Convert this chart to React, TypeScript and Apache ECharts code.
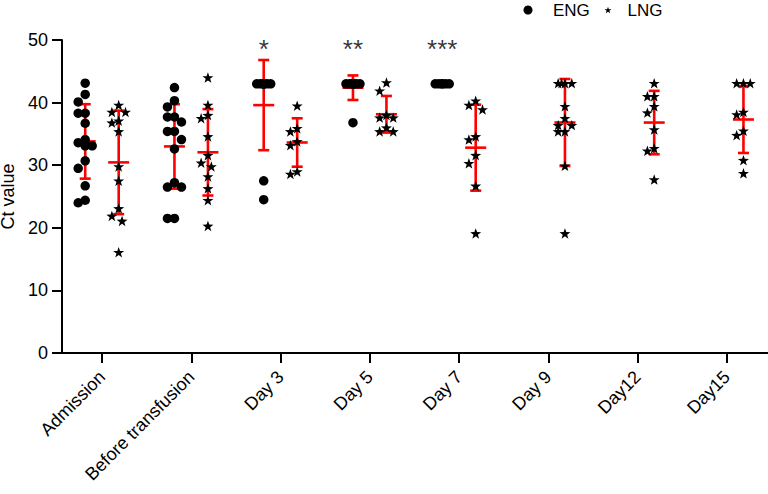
import React, { useEffect, useRef } from 'react';
import * as echarts from 'echarts';

const categories = ['Admission', 'Before transfusion', 'Day 3', 'Day 5', 'Day 7', 'Day 9', 'Day12', 'Day15'];

// ENG (early negative group) Ct values per time point
const engAdmission = [43.1, 41.3, 40.1, 38.3, 38.3, 36.7, 34.1, 33.6, 33.1, 33.1, 30.7, 29.5, 26.7, 24.4, 24.0];
const engBefore = [42.4, 40.3, 39.3, 37.7, 37.7, 36.9, 35.4, 35.4, 34.1, 32.6, 27.2, 26.5, 26.5, 21.5, 21.5];
const engDay3 = [43, 43, 43, 43, 43, 43, 43, 43, 27.5, 24.5];
const engDay5 = [43, 43, 43, 43, 43, 43, 43, 43, 43, 36.8];
const engDay7 = [43, 43, 43, 43, 43, 43];
const engDay9: number[] = [];
const engDay12: number[] = [];
const engDay15: number[] = [];

// LNG (late negative group) Ct values per time point
const lngAdmission = [39.6, 38.5, 38.5, 37.1, 36.8, 35.4, 29.8, 27.5, 23.1, 21.9, 21.1, 16.1];
const lngBefore = [44.0, 39.6, 38.0, 37.5, 34.6, 31.6, 30.4, 29.8, 28.2, 26.3, 24.4, 20.3];
const lngDay3 = [39.5, 35.9, 35.4, 33.8, 33.2, 29.0, 28.6];
const lngDay5 = [43.2, 41.9, 38.0, 37.6, 37.6, 36.0, 35.4, 35.4];
const lngDay7 = [40.3, 39.6, 38.9, 34.6, 34.1, 31.6, 30.3, 26.7, 19.1];
const lngDay9 = [43.1, 43.1, 43.1, 43.1, 39.4, 37.5, 36.4, 36.4, 35.4, 35.4, 29.9, 19.1];
const lngDay12 = [43.1, 41.0, 41.0, 39.4, 38.4, 35.7, 32.7, 32.3, 27.7];
const lngDay15 = [43.1, 43.1, 43.1, 38.5, 38.1, 35.5, 34.8, 30.8, 28.7];

const significance = ['', '', '*', '**', '***', '', '', ''];
const yTicks = [0, 10, 20, 30, 40, 50];

const engGroups = [engAdmission, engBefore, engDay3, engDay5, engDay7, engDay9, engDay12, engDay15];
const lngGroups = [lngAdmission, lngBefore, lngDay3, lngDay5, lngDay7, lngDay9, lngDay12, lngDay15];

const PX_PER_X = 89.25;
const PX_PER_Y = 6.26;
const ENG_SIDE = -0.19;
const LNG_SIDE = 0.185;

function starPath(): string {
  const pts: string[] = [];
  for (let k = 0; k < 10; k++) {
    const r = k % 2 === 0 ? 1 : 0.4;
    const a = -Math.PI / 2 + (k * Math.PI) / 5;
    pts.push(`${(r * Math.cos(a)).toFixed(4)} ${(r * Math.sin(a)).toFixed(4)}`);
  }
  return 'path://M' + pts.join(' L') + ' Z';
}
const STAR = starPath();

function swarm(values: number[], cat: number, side: number, minDist: number, step: number, maxOff: number) {
  const placed: { off: number; v: number }[] = [];
  const out: number[][] = [];
  const sorted = [...values].sort((a, b) => b - a);
  const cands: number[] = [0];
  for (let k = 1; k * step <= maxOff + 1e-6; k++) cands.push(-k * step, k * step);
  for (const v of sorted) {
    let best = cands[0];
    let bestD = -1;
    for (const c of cands) {
      let d = Infinity;
      for (const p of placed) {
        d = Math.min(d, Math.hypot(c - p.off, (v - p.v) * PX_PER_Y));
      }
      if (d >= minDist) { best = c; bestD = d; break; }
      if (d > bestD) { bestD = d; best = c; }
    }
    placed.push({ off: best, v });
    out.push([cat + side + best / PX_PER_X, v]);
  }
  return out;
}

function meanSd(values: number[]) {
  const n = values.length;
  const m = values.reduce((s, v) => s + v, 0) / n;
  const sd = n > 1 ? Math.sqrt(values.reduce((s, v) => s + (v - m) * (v - m), 0) / (n - 1)) : 0;
  return [m, sd];
}

export default function App() {
  const ref = useRef<HTMLDivElement>(null);
  useEffect(() => {
    if (!ref.current) return;
    const chart = echarts.init(ref.current, undefined, { renderer: 'svg' });
    const font = 'Liberation Sans, Arial, sans-serif';

    const engPts: number[][] = [];
    const lngPts: number[][] = [];
    const bars: number[][] = [];
    engGroups.forEach((g, i) => {
      if (!g.length) return;
      engPts.push(...swarm(g, i, ENG_SIDE, 9, 3.5, 7.5));
      const [m, sd] = meanSd(g);
      bars.push([i + ENG_SIDE, m, sd]);
    });
    lngGroups.forEach((g, i) => {
      if (!g.length) return;
      lngPts.push(...swarm(g, i, LNG_SIDE, 9.5, 3.4, 7));
      const [m, sd] = meanSd(g);
      bars.push([i + LNG_SIDE, m, sd]);
    });
    const sigData = significance
      .map((s, i) => (s ? [i - 0.19, 48.6, s] : null))
      .filter((d) => d !== null);

    const legendTextStyle = (gap: number) => ({
      fontSize: 17,
      color: '#000',
      fontFamily: font,
      rich: { a: { fontSize: 17, color: '#000', fontFamily: font, padding: [0, 0, 0, gap] } },
    });

    chart.setOption({
      animation: false,
      backgroundColor: '#fff',
      textStyle: { fontFamily: font },
      grid: { left: 62, right: 0, top: 40, bottom: 141, containLabel: false, outerBoundsMode: 'none' },
      legend: [
        {
          left: 523.5,
          top: 1.5,
          padding: 0,
          itemWidth: 9,
          itemHeight: 9,
          formatter: (n: string) => `{a|${n}}`,
          textStyle: legendTextStyle(15.5),
          data: [{ name: 'ENG', icon: 'circle' }],
        },
        {
          left: 604.5,
          top: 1.5,
          padding: 0,
          itemWidth: 7,
          itemHeight: 7,
          formatter: (n: string) => `{a|${n}}`,
          textStyle: legendTextStyle(11),
          data: [{ name: 'LNG', icon: STAR }],
        },
      ],
      xAxis: {
        type: 'value',
        min: -0.45,
        max: 7.46,
        splitLine: { show: false },
        axisLine: { show: true, onZero: false, lineStyle: { color: '#000', width: 2 } },
        axisTick: { show: true, length: 10, customValues: categories.map((_, i) => i), lineStyle: { color: '#000', width: 2 } },
        axisLabel: {
          customValues: categories.map((_, i) => i),
          formatter: (v: number) => categories[Math.round(v)] ?? '',
          rotate: 45,
          margin: 21,
          fontSize: 18,
          color: '#000',
          fontFamily: font,
        },
      },
      yAxis: {
        type: 'value',
        min: yTicks[0],
        max: yTicks[yTicks.length - 1],
        interval: 10,
        name: 'Ct value',
        nameLocation: 'middle',
        nameGap: 39,
        nameTextStyle: { fontSize: 18, color: '#000', fontFamily: font },
        splitLine: { show: false },
        axisLine: { show: true, onZero: false, lineStyle: { color: '#000', width: 2 } },
        axisTick: { show: true, length: 10, lineStyle: { color: '#000', width: 2 } },
        axisLabel: { fontSize: 18, color: '#000', margin: 14, fontFamily: font },
      },
      series: [
        {
          type: 'custom',
          name: 'Mean ± SD',
          z: 1,
          data: bars,
          renderItem: (_params: any, api: any) => {
            const x = api.value(0);
            const m = api.value(1);
            const sd = api.value(2);
            const pm = api.coord([x, m]);
            const pt = api.coord([x, m + sd]);
            const pb = api.coord([x, m - sd]);
            const st = { stroke: '#ff0000', lineWidth: 2.6 };
            const hm = 10.5;
            const hc = 5.5;
            return {
              type: 'group',
              children: [
                { type: 'line', shape: { x1: pt[0], y1: pt[1], x2: pb[0], y2: pb[1] }, style: st },
                { type: 'line', shape: { x1: pt[0] - hc, y1: pt[1], x2: pt[0] + hc, y2: pt[1] }, style: st },
                { type: 'line', shape: { x1: pb[0] - hc, y1: pb[1], x2: pb[0] + hc, y2: pb[1] }, style: st },
                { type: 'line', shape: { x1: pm[0] - hm, y1: pm[1], x2: pm[0] + hm, y2: pm[1] }, style: st },
              ],
            };
          },
        },
        {
          type: 'scatter',
          name: 'ENG',
          z: 3,
          symbol: 'circle',
          symbolSize: 9.5,
          itemStyle: { color: '#000', opacity: 1 },
          data: engPts,
        },
        {
          type: 'scatter',
          name: 'LNG',
          z: 3,
          symbol: STAR,
          symbolKeepAspect: true,
          symbolSize: 11,
          itemStyle: { color: '#000', opacity: 1 },
          data: lngPts,
        },
        {
          type: 'scatter',
          name: 'significance',
          z: 4,
          symbolSize: 1,
          itemStyle: { color: 'rgba(0,0,0,0)' },
          label: {
            show: true,
            position: 'inside',
            formatter: (p: any) => p.value[2],
            fontSize: 26,
            color: '#000',
            fontFamily: font,
          },
          data: sigData,
        },
      ],
    });
    return () => chart.dispose();
  }, []);
  return <div ref={ref} style={{ position: 'fixed', left: 0, top: 0, width: 768, height: 494 }} />;
}
